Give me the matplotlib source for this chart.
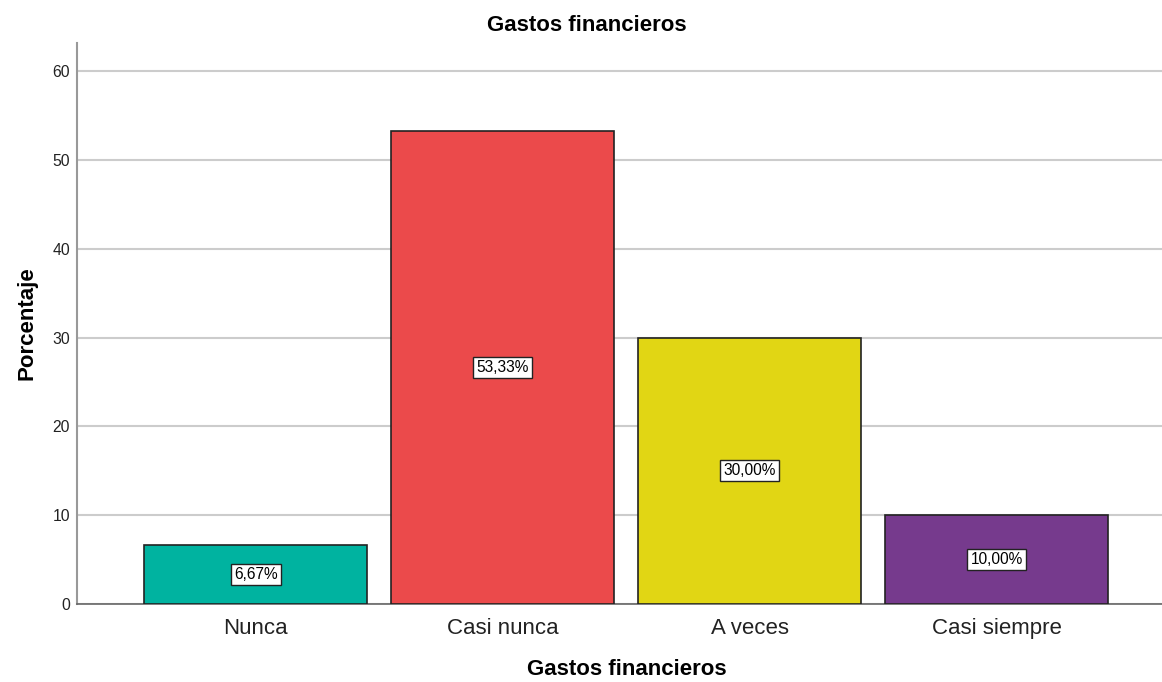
import matplotlib.pyplot as plt

categories = ["Nunca", "Casi nunca", "A veces", "Casi siempre"]
percentages = [6.67, 53.33, 30.00, 10.00]
bar_labels = ["6,67%", "53,33%", "30,00%", "10,00%"]
colors = ["#00B3A0", "#EB4A4B", "#E1D614", "#763A8D"]
yticks = [0, 10, 20, 30, 40, 50, 60]

plt.rcParams["font.family"] = ["Liberation Sans", "DejaVu Sans"]

fig = plt.figure(figsize=(11.62, 6.82), dpi=100)
ax = fig.add_axes([0.0663, 0.1144, 0.9337, 0.8226])

x = list(range(len(categories)))
ax.bar(x, percentages, width=0.903, color=colors, edgecolor="#222222",
       linewidth=1.2, zorder=3)

for xi, val, lab in zip(x, percentages, bar_labels):
    ax.text(xi, val / 2, lab, ha="center", va="center", fontsize=11.2,
            zorder=4,
            bbox=dict(boxstyle="square,pad=0.2", facecolor="white",
                      edgecolor="#222222", linewidth=1.0))

ax.set_xlim(-0.723, 3.67)
ax.set_ylim(0, 63.2)
ax.set_yticks(yticks)
ax.set_xticks(x)
ax.set_xticklabels(categories, fontsize=16, color="#222222")
ax.tick_params(axis="y", labelsize=11.3, length=0, pad=5, colors="#222222")
ax.tick_params(axis="x", length=0, pad=10)
ax.yaxis.grid(True, color="#cccccc", linewidth=1.5, zorder=0)

for side in ["top", "right"]:
    ax.spines[side].set_visible(False)
ax.spines["left"].set_color("#999999")
ax.spines["left"].set_linewidth(1.5)
ax.spines["bottom"].set_color("#666666")
ax.spines["bottom"].set_linewidth(1.2)

fig.text(0.505, 0.963, "Gastos financieros", fontsize=16, fontweight="bold",
         ha="center", va="center")
ax.set_xlabel("Gastos financieros", fontsize=16, fontweight="bold")
ax.xaxis.label.set_va("center")
ax.xaxis.set_label_coords(0.507, -0.1176)
ax.set_ylabel("Porcentaje", fontsize=16, fontweight="bold", labelpad=11)

fig.savefig("out.png", dpi=100)
